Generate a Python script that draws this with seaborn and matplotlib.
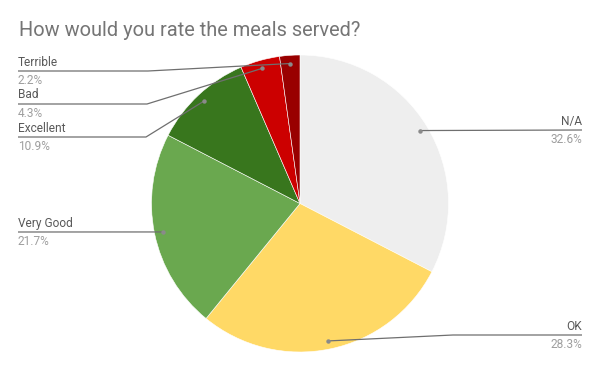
import numpy as np
import seaborn as sns
import matplotlib.pyplot as plt

categories = ["N/A", "OK", "Very Good", "Excellent", "Bad", "Terrible"]
shares = [32.6, 28.3, 21.7, 10.9, 4.3, 2.2]
colors = ["#eeeeee", "#ffd966", "#6aa84f", "#38761d", "#cc0000", "#990000"]
pct_labels = ["32.6%", "28.3%", "21.7%", "10.9%", "4.3%", "2.2%"]

sns.set_theme(style="white")
plt.rcParams['font.family'] = ['Roboto', 'DejaVu Sans']

W, H = 600, 371
fig = plt.figure(figsize=(6, 3.71), dpi=100)
ax = fig.add_axes([0, 0, 1, 1])
ax.set_xlim(0, W)
ax.set_ylim(0, H)
ax.axis("off")

def py(y):
    # pixel row (from top) to axes y
    return H - y

cx, cy, R = 300, 203.5, 148.5
wedges, _ = ax.pie(shares, colors=colors, startangle=90, counterclock=False,
                   center=(cx, py(cy)), radius=R,
                   wedgeprops=dict(edgecolor="white", linewidth=0.4))
ax.set_xlim(0, W)
ax.set_ylim(0, H)
ax.set_aspect("equal")

# leader layout: (side, bend point, line y)
layout = {
    "N/A": ("right", None, 130),
    "OK": ("right", (453, 335), 335),
    "Very Good": ("left", None, 232),
    "Excellent": ("left", (146, 137), 137),
    "Bad": ("left", (147, 104), 104),
    "Terrible": ("left", (148, 71), 71),
}
line_col = "#6f6f6f"
for w, cat, pct in zip(wedges, categories, pct_labels):
    ang = np.deg2rad((w.theta1 + w.theta2) / 2)
    dx = cx + 0.945 * R * np.cos(ang)
    dy = py(cy) + 0.945 * R * np.sin(ang)
    side, bend, ly = layout[cat]
    xend = 582 if side == "right" else 18
    xs, ys = [dx], [dy]
    if bend is not None:
        xs.append(bend[0]); ys.append(py(bend[1]))
    xs.append(xend); ys.append(py(ly))
    ax.plot(xs, ys, color=line_col, lw=0.9, solid_capstyle="butt")
    ax.plot(dx, dy, "o", color="#8a8a8a", ms=3.2, mew=0)
    ha = "right" if side == "right" else "left"
    ax.text(xend, py(ly - 2.5), cat, ha=ha, va="bottom", fontsize=8.6,
            color="#595959")
    ax.text(xend, py(ly + 3), pct, ha=ha, va="top", fontsize=8.6,
            color="#9e9e9e")

fig.text(19 / W, 1 - 31 / H, "How would you rate the meals served?",
         ha="left", va="center", fontsize=14.4, color="#757575")

fig.savefig("out.png", dpi=100)
